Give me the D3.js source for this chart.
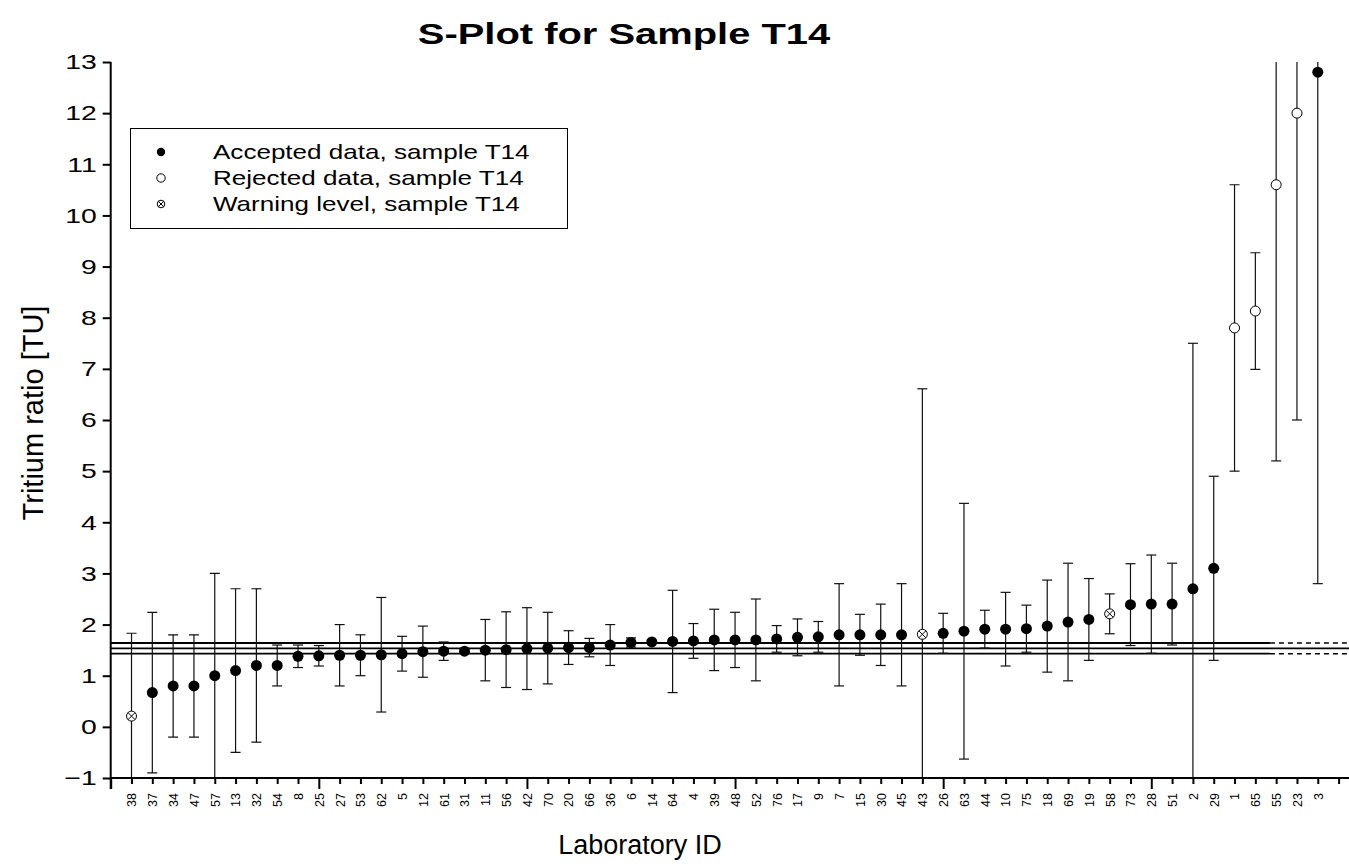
<!DOCTYPE html>
<html>
<head>
<meta charset="utf-8">
<script src="https://cdn.jsdelivr.net/npm/d3@7"></script>
<style>
  html, body { margin: 0; padding: 0; background: #fff; }
  svg { display: block; font-family: "Liberation Sans", Arial, sans-serif; }
</style>
</head>
<body>
<svg id="chart" width="1349" height="866"></svg>
<script>
// Laboratory IDs in ranked order (S-plot)
const labIds = [38, 37, 34, 47, 57, 13, 32, 54, 8, 25, 27, 53, 62, 5, 12, 61, 31, 11, 56, 42,
  70, 20, 66, 36, 6, 14, 64, 4, 39, 48, 52, 76, 17, 9, 7, 15, 30, 45, 43, 26,
  63, 44, 10, 75, 18, 69, 19, 58, 73, 28, 51, 2, 29, 1, 65, 55, 23, 3];

// Reported tritium ratio [TU]
const ratios = [0.21, 0.67, 0.80, 0.80, 1.00, 1.10, 1.20, 1.20, 1.38, 1.39, 1.40, 1.40, 1.41, 1.43, 1.47, 1.48, 1.48, 1.50, 1.51, 1.53,
  1.54, 1.55, 1.55, 1.60, 1.65, 1.66, 1.67, 1.68, 1.70, 1.70, 1.70, 1.72, 1.75, 1.76, 1.80, 1.80, 1.80, 1.80, 1.81, 1.83,
  1.87, 1.91, 1.91, 1.92, 1.97, 2.05, 2.10, 2.21, 2.39, 2.40, 2.40, 2.70, 3.10, 7.80, 8.13, 10.60, 12.00, 12.80];

// Reported uncertainty [TU]
const uncertainties = [1.62, 1.57, 1.00, 1.00, 2.00, 1.60, 1.50, 0.40, 0.22, 0.20, 0.60, 0.40, 1.12, 0.34, 0.50, 0.18, 0.04, 0.60, 0.74, 0.80,
  0.70, 0.33, 0.18, 0.40, 0.09, 0.03, 1.00, 0.34, 0.60, 0.54, 0.80, 0.26, 0.36, 0.30, 1.00, 0.40, 0.60, 1.00, 4.80, 0.39,
  2.50, 0.37, 0.72, 0.46, 0.90, 1.15, 0.80, 0.39, 0.80, 0.96, 0.80, 4.80, 1.80, 2.80, 1.14, 5.40, 6.00, 10.00];

// A = accepted, R = rejected, W = warning level
const flags = ["W", "A", "A", "A", "A", "A", "A", "A", "A", "A", "A", "A", "A", "A", "A", "A", "A", "A", "A", "A",
  "A", "A", "A", "A", "A", "A", "A", "A", "A", "A", "A", "A", "A", "A", "A", "A", "A", "A", "W", "A",
  "A", "A", "A", "A", "A", "A", "A", "W", "A", "A", "A", "A", "A", "R", "R", "R", "R", "A"];

// Reference value with its lower and upper limits [TU]
const referenceLines = [1.43, 1.535, 1.64];

const yTicks = [-1, 0, 1, 2, 3, 4, 5, 6, 7, 8, 9, 10, 11, 12, 13];

const legendItems = [
  { flag: "A", label: "Accepted data, sample T14" },
  { flag: "R", label: "Rejected data, sample T14" },
  { flag: "W", label: "Warning level, sample T14" }
];

const data = labIds.map((id, i) => ({
  id, pos: i + 1, value: ratios[i], err: uncertainties[i], flag: flags[i]
}));

const svg = d3.select("#chart");
const margin = { left: 110.7, right: 0, top: 62, bottom: 88 };
const W = 1349, H = 866;
const FONT = "'Liberation Sans', Arial, sans-serif";

const x = d3.scaleLinear().domain([0, 59.5]).range([margin.left, W - margin.right]);
const y = d3.scaleLinear().domain([-1, 13]).range([H - margin.bottom, margin.top]);

// widen glyphs horizontally by factor sx, keeping the text anchor in place
function widen(sel, sx) {
  sel.each(function () {
    const len = this.getComputedTextLength();
    d3.select(this).attr("textLength", len * sx).attr("lengthAdjust", "spacingAndGlyphs");
  });
}

svg.append("defs").append("clipPath").attr("id", "plotClip")
  .append("rect")
  .attr("x", margin.left).attr("y", margin.top)
  .attr("width", W - margin.left).attr("height", y(-1) - margin.top);

const plot = svg.append("g").attr("clip-path", "url(#plotClip)");

// reference lines: solid over the data range, outer limits dashed beyond it
const dashFrom = 55.7;
referenceLines.forEach((v, i) => {
  const isMid = i === 1;
  plot.append("line")
    .attr("x1", x(0)).attr("x2", isMid ? x(59.5) : x(dashFrom))
    .attr("y1", y(v)).attr("y2", y(v))
    .attr("stroke", "#000").attr("stroke-width", 1.8);
  if (!isMid) {
    plot.append("line")
      .attr("x1", x(dashFrom)).attr("x2", x(59.5))
      .attr("y1", y(v)).attr("y2", y(v))
      .attr("stroke", "#000").attr("stroke-width", 1.5)
      .attr("stroke-dasharray", "5,4");
  }
});

// error bars
const capHalf = 5;
const eb = plot.append("g").attr("stroke", "#111").attr("stroke-width", 1.2);
data.forEach(d => {
  const cx = x(d.pos);
  eb.append("line").attr("x1", cx).attr("x2", cx)
    .attr("y1", y(d.value + d.err)).attr("y2", y(d.value - d.err));
  [d.value + d.err, d.value - d.err].forEach(v => {
    eb.append("line").attr("x1", cx - capHalf).attr("x2", cx + capHalf)
      .attr("y1", y(v)).attr("y2", y(v));
  });
});

// markers
function drawMarker(g, flag, cx, cy, r) {
  if (flag === "A") {
    g.append("circle").attr("cx", cx).attr("cy", cy).attr("r", r).attr("fill", "#000");
  } else if (flag === "R") {
    g.append("circle").attr("cx", cx).attr("cy", cy).attr("r", r)
      .attr("fill", "#fff").attr("stroke", "#000").attr("stroke-width", 1);
  } else {
    g.append("circle").attr("cx", cx).attr("cy", cy).attr("r", r)
      .attr("fill", "#fff").attr("stroke", "#000").attr("stroke-width", 1);
    const k = r * 0.7;
    g.append("path")
      .attr("d", `M${cx - k},${cy - k}L${cx + k},${cy + k}M${cx - k},${cy + k}L${cx + k},${cy - k}`)
      .attr("stroke", "#000").attr("stroke-width", 1);
  }
}
const mk = plot.append("g");
data.forEach(d => drawMarker(mk, d.flag, x(d.pos), y(d.value), d.flag === "A" ? 5.5 : 5));

// y axis
const yAxis = svg.append("g")
  .attr("transform", `translate(${x(0)},0)`)
  .call(d3.axisLeft(y).tickValues(yTicks).tickFormat(d3.format("d")).tickSize(8).tickSizeOuter(0).tickPadding(6));
yAxis.select(".domain").attr("stroke-width", 2).attr("d", `M0,${y(13)}V${y(-1) + 11}`);
yAxis.selectAll(".tick line").attr("stroke-width", 2);
yAxis.selectAll(".tick text").attr("font-size", 21).attr("fill", "#000")
  .attr("font-family", FONT).call(widen, 1.35);

// x axis
const xAxis = svg.append("g")
  .attr("transform", `translate(0,${y(-1)})`)
  .call(d3.axisBottom(x).tickValues(d3.range(0, 60)).tickSizeOuter(0)
    .tickSize(6)
    .tickFormat(i => (i >= 1 && i <= labIds.length) ? labIds[i - 1] : ""));
xAxis.select(".domain").attr("stroke-width", 2.2)
  .attr("d", `M${x(0)},0H${W}`);
xAxis.selectAll(".tick line")
  .attr("stroke-width", 2)
  .attr("y2", i => i % 10 === 0 ? 11 : 6);
xAxis.selectAll(".tick text")
  .attr("font-size", 12.5).attr("fill", "#000")
  .attr("font-family", FONT)
  .attr("transform", "rotate(-90)")
  .attr("text-anchor", "end")
  .attr("dy", "0.35em")
  .attr("x", -15).attr("y", 0);

// titles
svg.append("text").attr("x", 624).attr("y", 44)
  .attr("text-anchor", "middle").attr("font-size", 30).attr("font-weight", "bold")
  .text("S-Plot for Sample T14").call(widen, 1.33);
svg.append("text").attr("x", 640).attr("y", 854)
  .attr("text-anchor", "middle").attr("font-size", 27)
  .text("Laboratory ID");
svg.append("text")
  .attr("transform", `translate(43,413) rotate(-90)`)
  .attr("text-anchor", "middle").attr("font-size", 29)
  .text("Tritium ratio [TU]");

// legend
const lg = svg.append("g");
lg.append("rect").attr("x", 130.5).attr("y", 128.5).attr("width", 437).attr("height", 100)
  .attr("fill", "#fff").attr("stroke", "#000").attr("stroke-width", 1);
legendItems.forEach((item, i) => {
  const cy = 152 + i * 26;
  drawMarker(lg, item.flag, 161, cy, item.flag === "W" ? 3.8 : 4.2);
  lg.append("text").attr("x", 213).attr("y", cy + 7)
    .attr("font-size", 21).text(item.label).call(widen, 1.24);
});
</script>
</body>
</html>
